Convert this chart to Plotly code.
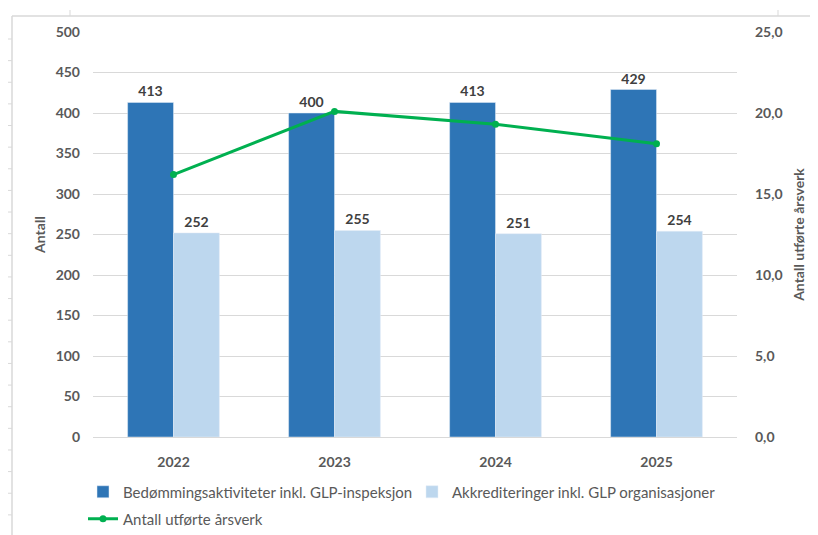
import plotly.graph_objects as go

years = ["2022", "2023", "2024", "2025"]
bedomming = [413, 400, 413, 429]
akkreditering = [252, 255, 251, 254]
arsverk = [16.2, 20.1, 19.3, 18.1]

OFF = 8  # page body margin
W, H = 818 - OFF, 535 - OFF
L, R, T, B = 93 - OFF, 737 - OFF, 32 - OFF, 437 - OFF

def px(x):
    return (x - OFF - L) / (R - L)

def py(y):
    return (B - (y - OFF)) / (B - T)

FONT = "Lato"
TICK = dict(family=FONT, size=14, color="#595959", weight="bold")
LABEL = dict(family=FONT, size=14, color="#404040", weight="bold")

fig = go.Figure()
fig.add_trace(go.Bar(
    x=years, y=bedomming, name="Bedømmingsaktiviteter inkl. GLP-inspeksjon",
    marker=dict(color="#2e75b6"), text=bedomming, textposition="outside",
    textfont=LABEL, cliponaxis=False, legend="legend",
))
fig.add_trace(go.Bar(
    x=years, y=akkreditering, name="Akkrediteringer inkl. GLP organisasjoner",
    marker=dict(color="#bdd7ee"), text=akkreditering, textposition="outside",
    textfont=LABEL, cliponaxis=False, legend="legend",
))
fig.add_trace(go.Scatter(
    x=years, y=arsverk, name="Antall utførte årsverk", yaxis="y2",
    mode="lines+markers", line=dict(color="#00b050", width=3),
    marker=dict(color="#00b050", size=7), legend="legend2",
))

shapes = [
    dict(type="line", xref="paper", yref="paper", x0=px(12), x1=px(818), y0=py(16), y1=py(16),
         line=dict(color="#d9d9d9", width=1.5)),
    dict(type="line", xref="paper", yref="paper", x0=px(12), x1=px(12), y0=py(16), y1=py(535),
         line=dict(color="#d9d9d9", width=1.5)),
    dict(type="line", xref="paper", yref="paper", x0=px(70), x1=px(70), y0=py(10), y1=py(16),
         line=dict(color="#d9d9d9", width=1)),
    dict(type="line", xref="paper", yref="paper", x0=px(778), x1=px(778), y0=py(10), y1=py(16),
         line=dict(color="#d9d9d9", width=1)),
]
yy = 39.0
while yy < 535:
    shapes.append(dict(type="line", xref="paper", yref="paper", x0=px(8), x1=px(12),
                       y0=py(yy), y1=py(yy), line=dict(color="#d9d9d9", width=1)))
    yy += 21.63

fig.update_layout(
    width=W, height=H,
    margin=dict(l=L, r=W - R, t=T, b=H - B, autoexpand=False),
    paper_bgcolor="white", plot_bgcolor="white",
    separators=", ",
    barmode="group", bargap=0.43, bargroupgap=0,
    font=dict(family=FONT, color="#595959"),
    xaxis=dict(type="category", showgrid=False, showline=True, linecolor="#d9d9d9", linewidth=1,
               tickfont=TICK, ticks="", ticklabelstandoff=12, automargin=False),
    yaxis=dict(range=[0, 500], dtick=50, showgrid=True, gridcolor="#d9d9d9", gridwidth=1,
               zeroline=False, tickfont=TICK, ticklabelstandoff=12, automargin=False,
               title=dict(text="Antall", font=dict(family=FONT, size=14, color="#595959", weight="bold"),
                          standoff=6)),
    yaxis2=dict(range=[0, 25], dtick=5, tickformat=".1f", overlaying="y", side="right",
                showgrid=False, zeroline=False, tickfont=TICK, ticklabelstandoff=17, automargin=False,
                title=dict(text="Antall utførte årsverk",
                           font=dict(family=FONT, size=14, color="#595959", weight="bold"), standoff=12)),
    legend=dict(orientation="h", x=px(83), xanchor="left", y=py(492), yanchor="middle",
                font=dict(family=FONT, size=15, color="#595959"), entrywidth=284, entrywidthmode="pixels",
                bgcolor="rgba(0,0,0,0)"),
    legend2=dict(orientation="h", x=px(83), xanchor="left", y=py(519), yanchor="middle",
                 font=dict(family=FONT, size=15, color="#595959"), bgcolor="rgba(0,0,0,0)"),
    shapes=shapes,
    showlegend=True,
)

fig.write_html("out.html")
